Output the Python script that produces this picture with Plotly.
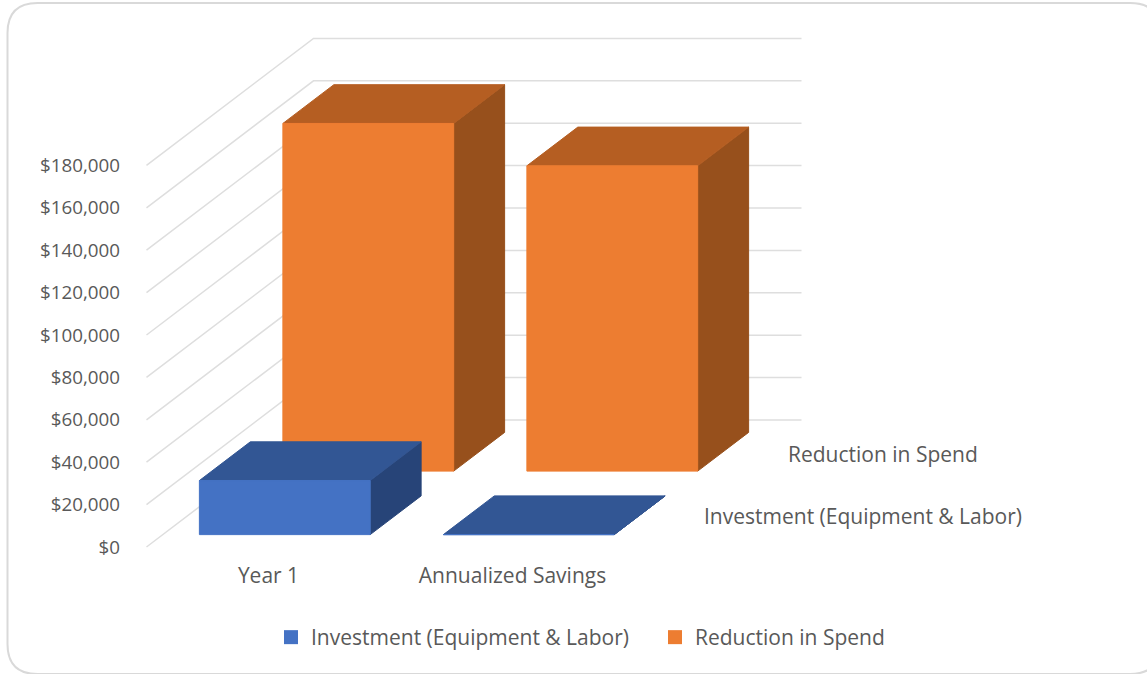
import plotly.graph_objects as go

# Chart values
categories = ["Year 1", "Annualized Savings"]
series_names = ["Investment (Equipment & Labor)", "Reduction in Spend"]
investment = [25500, 0]
reduction = [164000, 144000]
tick_values = [0, 20000, 40000, 60000, 80000, 100000, 120000, 140000, 160000, 180000]
tick_labels = ["$0", "$20,000", "$40,000", "$60,000", "$80,000", "$100,000",
               "$120,000", "$140,000", "$160,000", "$180,000"]

# Figure size and scales of the oblique projection
W, H = 1147, 674
PX_PER_CAT = 244.0
PX_PER_USD = 42.4 / 20000
DEPTH_X = 167 / PX_PER_CAT     # shift of the back wall, category units
DEPTH_Y = 127 / PX_PER_USD     # shift of the back wall, dollars
BAR_WIDTH = 0.70
BAR_DEPTH = 0.305
ROW_DEPTH = 0.5
ROW_START = 0.0975

# Axis frame in figure pixels
LEFT, BOTTOM = 121, 555
ORIGIN_X, ORIGIN_Y = 146.5 + PX_PER_CAT / 2, 547

TEXT = "#595959"
GRID = "#dedede"
FONT = "Open Sans"
LABEL_SIZE = 21
TICK_SIZE = 18.8

COLORS = {
    0: dict(front="#4472c4", top="#325694", side="#274478"),
    1: dict(front="#ed7d31", top="#b55e22", side="#97501c"),
}


def project(cat, value, depth):
    """Oblique projection of (category, value, depth) onto the 2D axes."""
    return cat + depth * DEPTH_X, value + depth * DEPTH_Y


def face(points, color):
    xs, ys = zip(*[project(*p) for p in points])
    return go.Scatter(
        x=list(xs) + [xs[0]], y=list(ys) + [ys[0]],
        mode="lines", fill="toself", fillcolor=color,
        line=dict(color=color, width=1),
        hoverinfo="skip", showlegend=False,
    )


def bar_faces(cat, value, row, palette):
    x0, x1 = cat - BAR_WIDTH / 2, cat + BAR_WIDTH / 2
    d0 = ROW_START + row * ROW_DEPTH
    d1 = d0 + BAR_DEPTH
    return [
        face([(x1, 0, d0), (x1, 0, d1), (x1, value, d1), (x1, value, d0)], palette["side"]),
        face([(x0, value, d0), (x1, value, d0), (x1, value, d1), (x0, value, d1)], palette["top"]),
        face([(x0, 0, d0), (x1, 0, d0), (x1, value, d0), (x0, value, d0)], palette["front"]),
    ]


fig = go.Figure()

# Side wall and back wall gridlines
grid_x, grid_y = [], []
x_start, x_end = -0.5, len(categories) - 0.5
for v in tick_values:
    for cat, depth in [(x_start, 0), (x_start, 1), (x_end, 1)]:
        px, py = project(cat, v, depth)
        grid_x.append(px)
        grid_y.append(py)
    grid_x.append(None)
    grid_y.append(None)
fig.add_trace(go.Scatter(x=grid_x, y=grid_y, mode="lines",
                         line=dict(color=GRID, width=1.5),
                         hoverinfo="skip", showlegend=False))

# Bars, painted from the back row to the front row
for row, values in reversed(list(enumerate([investment, reduction]))):
    for cat, value in enumerate(values):
        for trace in bar_faces(cat, value, row, COLORS[row]):
            fig.add_trace(trace)

# Legend entries
for row, name in enumerate(series_names):
    fig.add_trace(go.Scatter(
        x=[None], y=[None], mode="markers", name=name,
        marker=dict(symbol="square", size=14, color=COLORS[row]["front"]),
    ))

# Series names along the depth axis
annotations = []
for row, name in enumerate(series_names):
    ax, ay = project(x_end, 0, ROW_DEPTH * (row + 0.5))
    annotations.append(dict(
        x=ax, y=ay, text=name, showarrow=False, xanchor="left", yanchor="middle",
        xshift=26, yshift=-1 - row, font=dict(family=FONT, size=LABEL_SIZE, color=TEXT),
    ))

# Rounded chart frame, running slightly past the right edge
fl, ft, fr, fb, rad = 7.5, 3.0, 1160.0, 674.0, 30.0
def fx(px):
    return px / W
def fy(py):
    return 1 - py / H
frame_path = (
    f"M {fx(fl + rad)} {fy(ft)} L {fx(fr - rad)} {fy(ft)} "
    f"Q {fx(fr)} {fy(ft)} {fx(fr)} {fy(ft + rad)} "
    f"L {fx(fr)} {fy(fb - rad)} Q {fx(fr)} {fy(fb)} {fx(fr - rad)} {fy(fb)} "
    f"L {fx(fl + rad)} {fy(fb)} Q {fx(fl)} {fy(fb)} {fx(fl)} {fy(fb - rad)} "
    f"L {fx(fl)} {fy(ft + rad)} Q {fx(fl)} {fy(ft)} {fx(fl + rad)} {fy(ft)} Z"
)

fig.update_layout(
    width=W, height=H,
    margin=dict(l=0, r=0, t=0, b=0, autoexpand=False),
    paper_bgcolor="white", plot_bgcolor="white",
    font=dict(family=FONT, size=LABEL_SIZE, color=TEXT),
    annotations=annotations,
    shapes=[dict(type="path", path=frame_path, xref="paper", yref="paper",
                 line=dict(color="#d9d9d9", width=2), layer="below")],
    xaxis=dict(
        domain=[LEFT / W, 1],
        range=[(LEFT - ORIGIN_X) / PX_PER_CAT, (W - ORIGIN_X) / PX_PER_CAT],
        tickvals=list(range(len(categories))), ticktext=categories,
        showgrid=False, zeroline=False, showline=False,
        ticks="outside", ticklen=2, tickcolor="rgba(0,0,0,0)",
        tickfont=dict(family=FONT, size=LABEL_SIZE, color=TEXT),
    ),
    yaxis=dict(
        domain=[1 - BOTTOM / H, 1],
        range=[(ORIGIN_Y - BOTTOM) / PX_PER_USD, ORIGIN_Y / PX_PER_USD],
        tickvals=tick_values, ticktext=tick_labels,
        showgrid=False, zeroline=False, showline=False, ticks="",
        tickfont=dict(family=FONT, size=TICK_SIZE, color=TEXT),
    ),
    showlegend=True,
    legend=dict(
        orientation="h", x=271 / W, xanchor="left", y=1 - 617 / H, yanchor="top",
        entrywidth=339, entrywidthmode="pixels", bgcolor="rgba(0,0,0,0)",
        font=dict(family=FONT, size=LABEL_SIZE, color=TEXT),
    ),
)

fig.write_html("out.html", config=dict(displayModeBar=False))
